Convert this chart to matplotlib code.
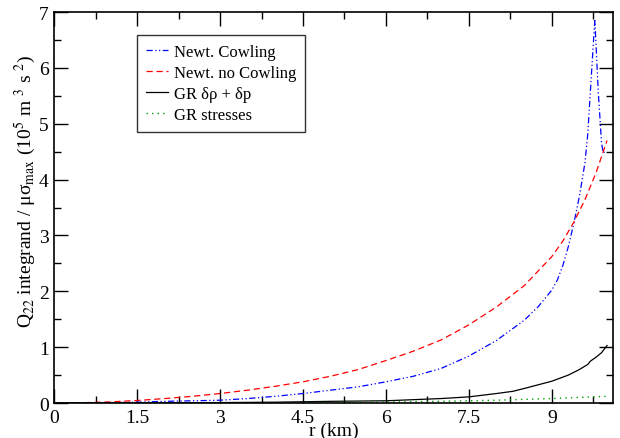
import matplotlib
matplotlib.use("Agg")
import matplotlib.pyplot as plt
from matplotlib.ticker import MultipleLocator

plt.rcParams['font.family'] = ['Liberation Serif', 'DejaVu Serif']
plt.rcParams['mathtext.fontset'] = 'stix'

# Newt. no Cowling
r_red = [0, 0.5, 1, 1.5, 2, 2.5, 3, 3.5, 4, 4.5, 5, 5.5, 6, 6.5, 7, 7.5, 8, 8.5, 9,
         9.2, 9.4, 9.6, 9.8, 10.0]
v_red = [0, 0.005, 0.02, 0.045, 0.08, 0.12, 0.17, 0.23, 0.30, 0.38, 0.48, 0.60, 0.76,
         0.93, 1.13, 1.40, 1.72, 2.10, 2.62, 2.90, 3.24, 3.64, 4.12, 4.70]
# Newt. Cowling
r_blue = [0, 1, 1.5, 2, 2.5, 3, 3.5, 4, 4.5, 5, 5.5, 6, 6.5, 7, 7.5, 8, 8.5, 8.75, 9,
          9.1, 9.2, 9.3, 9.4, 9.5, 9.55, 9.6, 9.65, 9.7, 9.75, 9.78, 9.84, 9.9, 9.93, 9.99]
v_blue = [0, 0.005, 0.015, 0.03, 0.04, 0.05, 0.08, 0.12, 0.17, 0.23, 0.29, 0.38, 0.48,
          0.62, 0.84, 1.12, 1.48, 1.72, 2.02, 2.20, 2.46, 2.80, 3.22, 3.70, 4.00, 4.30,
          4.80, 5.60, 6.40, 6.85, 5.60, 4.66, 4.48, 4.52]
# GR drho + dp
r_black = [0, 1, 2, 3, 4, 5, 5.5, 6, 6.5, 7, 7.5, 8, 8.3, 8.5, 9, 9.3, 9.5, 9.65, 9.7,
           9.8, 9.9, 10.0]
v_black = [0, 0.001, 0.004, 0.008, 0.015, 0.03, 0.035, 0.04, 0.06, 0.08, 0.11, 0.17,
           0.21, 0.26, 0.39, 0.50, 0.60, 0.69, 0.75, 0.82, 0.90, 1.03]
# GR stresses
r_green = [0, 2, 4, 5, 6, 7, 7.5, 8, 8.5, 9, 9.5, 10.0]
v_green = [0, 0.001, 0.005, 0.01, 0.02, 0.03, 0.04, 0.05, 0.065, 0.08, 0.10, 0.12]

labels = ['Newt. Cowling', 'Newt. no Cowling', 'GR δρ + δp', 'GR stresses']

fig = plt.figure(figsize=(6.2, 4.39), dpi=100)
ax = fig.add_axes([0.0876, 0.0797, 0.9004, 0.8905])

ax.plot(r_blue, v_blue, color='#0000ff', lw=0.9, dashes=(5, 2, 1, 2, 1, 2), label=labels[0])
ax.plot(r_red, v_red, color='#ff0000', lw=0.9, dashes=(5, 3), label=labels[1])
ax.plot(r_black, v_black, color='black', lw=0.9, label=labels[2])
ax.plot(r_green, v_green, color='#00a000', lw=1.0, dashes=(1, 3), label=labels[3])

ax.set_xlim(0, 10.1)
ax.set_ylim(0, 7)
ax.xaxis.set_major_locator(MultipleLocator(1.5))
ax.xaxis.set_minor_locator(MultipleLocator(0.75))
ax.yaxis.set_major_locator(MultipleLocator(1))
ax.yaxis.set_minor_locator(MultipleLocator(0.5))
ax.xaxis.set_major_formatter(plt.FuncFormatter(lambda v, p: ('%g' % v)))
ax.tick_params(which='both', direction='in', top=True, right=True, labelsize=14, width=1.0)
ax.tick_params(which='major', length=10, pad=4)
ax.tick_params(which='minor', length=5)
for s in ax.spines.values():
    s.set_linewidth(1.2)

ax.set_xlabel('r (km)', fontsize=14, labelpad=-3)
ax.set_ylabel(r'Q$_{22}$ integrand / μσ$_{\rm max}$ (10$^{5}$ m $^{3}$ s $^{2}$)',
              fontsize=14)
ax.yaxis.set_label_coords(-0.03, 0.545)

leg = ax.legend(loc='upper left', bbox_to_anchor=(0.148, 0.941), borderaxespad=0,
                fontsize=12, frameon=True, fancybox=False, edgecolor='black',
                handlelength=1.3, labelspacing=0.3, borderpad=0.55, handletextpad=0.35)
leg.get_frame().set_linewidth(1.0)

fig.savefig('out.png', dpi=100)
